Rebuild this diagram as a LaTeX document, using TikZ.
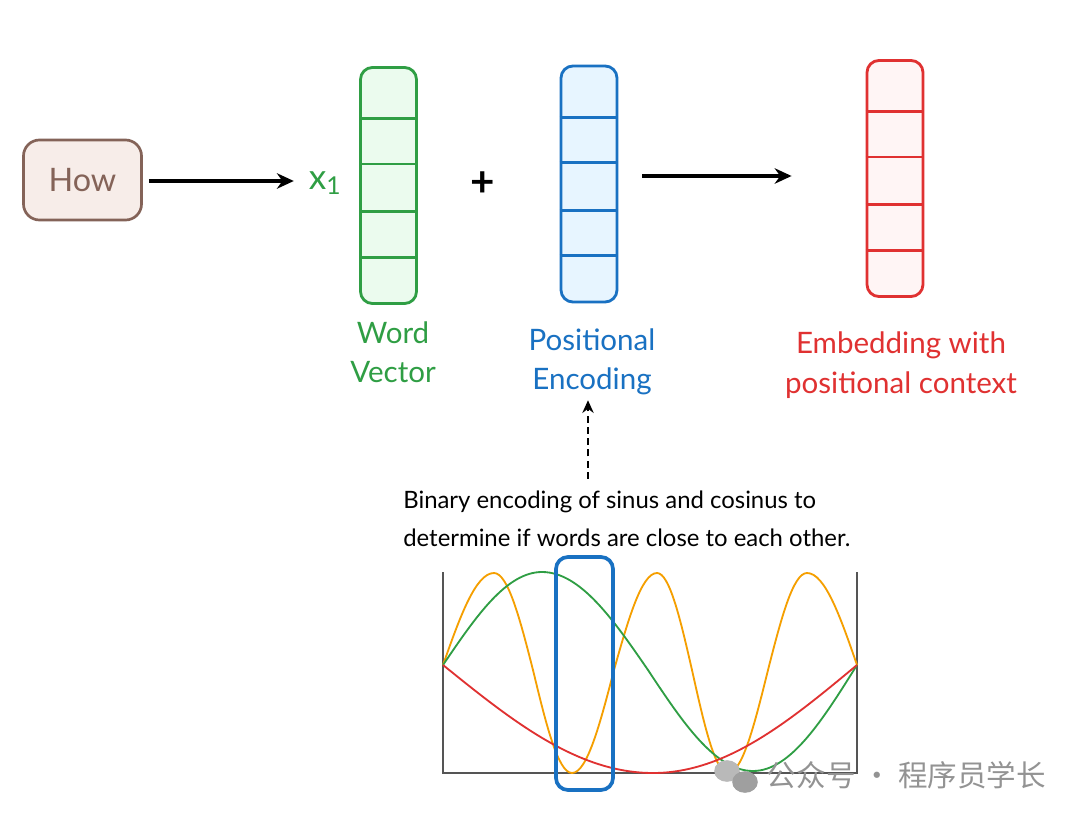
\documentclass[tikz,border=0pt]{standalone}
\usepackage{fontspec}
\setmainfont{Lato}
\newfontfamily\cjk{Noto Sans CJK SC}
\usetikzlibrary{arrows.meta,calc}
\definecolor{howbrown}{HTML}{846358}
\definecolor{howfill}{HTML}{F7EDE9}
\definecolor{wgreen}{HTML}{2F9E44}
\definecolor{wgreenfill}{HTML}{EBFBEE}
\definecolor{pblue}{HTML}{1971C2}
\definecolor{pbluefill}{HTML}{E7F5FF}
\definecolor{ered}{HTML}{E03131}
\definecolor{eredfill}{HTML}{FFF5F5}
\definecolor{worange}{HTML}{F59F00}
\definecolor{axisgray}{HTML}{555555}

\begin{document}
\begin{tikzpicture}[x=0.025cm,y=-0.025cm,
    vecbox/.style={rectangle,rounded corners=0.3cm,minimum width=1.4cm,minimum height=5.9cm,line width=2pt},
    lab/.style={align=center,font=\fontsize{21}{28}\selectfont},
    arr/.style={line width=2.6pt,-{Stealth[length=12pt,width=11pt]}},
    wave/.style={line width=1.3pt}]
    \fill[white] (0,0) rectangle (1080,821);
    \useasboundingbox (0,0) rectangle (1080,821);
            % input word and the three vectors
            \node[draw=howbrown,fill=howfill,line width=1.9pt,rounded corners=0.4cm,minimum width=2.95cm,minimum height=2cm,text=howbrown,font=\fontsize{23}{23}\selectfont] (how) at (82.5,180) {How};
            \node[text=wgreen,font=\fontsize{25}{25}\selectfont] (x1) at (325,183) {x\textsubscript{1}};
            \node[vecbox,draw=wgreen,fill=wgreenfill] (wv) at (388.5,185.5) {};
            \node[font=\bfseries\fontsize{30}{30}\selectfont] (plus) at (483,184) {+};
            \node[vecbox,draw=pblue,fill=pbluefill] (pe) at (589,184) {};
            \node[vecbox,draw=ered,fill=eredfill] (emb) at (895,178.5) {};
            \foreach \v/\c in {wv/wgreen,pe/pblue,emb/ered}
                \foreach \f in {0.22,0.41,0.61,0.8}
                    \draw[\c,line width=2pt] ($(\v.north west)!\f!(\v.south west)$) -- ($(\v.north east)!\f!(\v.south east)$);
            \draw[arr,shorten <=0.15cm,shorten >=0.25cm] (how.east |- 0,181) -- (x1.west |- 0,181);
            \draw[arr,shorten <=0.6cm,shorten >=1.85cm] (pe.east |- 0,176) -- (emb.west |- 0,176);
            % labels
            \node[lab,text=wgreen] (wvlab) at (393,352) {Word\\Vector};
            \node[lab,text=pblue] (pelab) at (592,362) {Positional\\Encoding};
            \node[lab,text=ered] (emblab) at (901,365) {Embedding with\\positional context};
            \node[anchor=west,align=left,inner sep=0pt,font=\fontsize{17}{27}\selectfont] (note) at (403,519) {Binary encoding of sinus and cosinus to\\determine if words are close to each other.};
            \draw[dash pattern=on 5pt off 3pt,line width=1.8pt,-{Stealth[length=9pt,width=8pt]},shorten <=0.3cm] (note.north -| 588,0) -- (pelab.south -| 588,0);
            % sine plot
            \draw[axisgray,line width=1pt] (443,572) -- (443,773) -- (857,773) -- (857,572);
            \draw[wave,worange] (443,665) sin (494,573) cos (533,670) sin (572,773) cos (614,670) sin (657,573) cos (692,670) sin (728,773) cos (768,670) sin (807,573) cos (857,665);
            \draw[wave,wgreen] (443,665) sin (542,572) cos (648,670) sin (753,771) cos (857,665);
            \draw[wave,ered] (443,665) sin (653,773) cos (857,665);
            \draw[pblue,line width=2.6pt,rounded corners=0.3cm] (556,557) rectangle (613,790);
            % watermark
            \fill[gray!55] (727,771) ellipse (0.32cm and 0.27cm);
            \fill[gray!75] (745,782) ellipse (0.32cm and 0.27cm);
            \node[text=gray!85,font=\cjk\fontsize{21}{21}\selectfont,anchor=west] (wm) at (762,775) {公众号 · 程序员学长};
\end{tikzpicture}
\end{document}
